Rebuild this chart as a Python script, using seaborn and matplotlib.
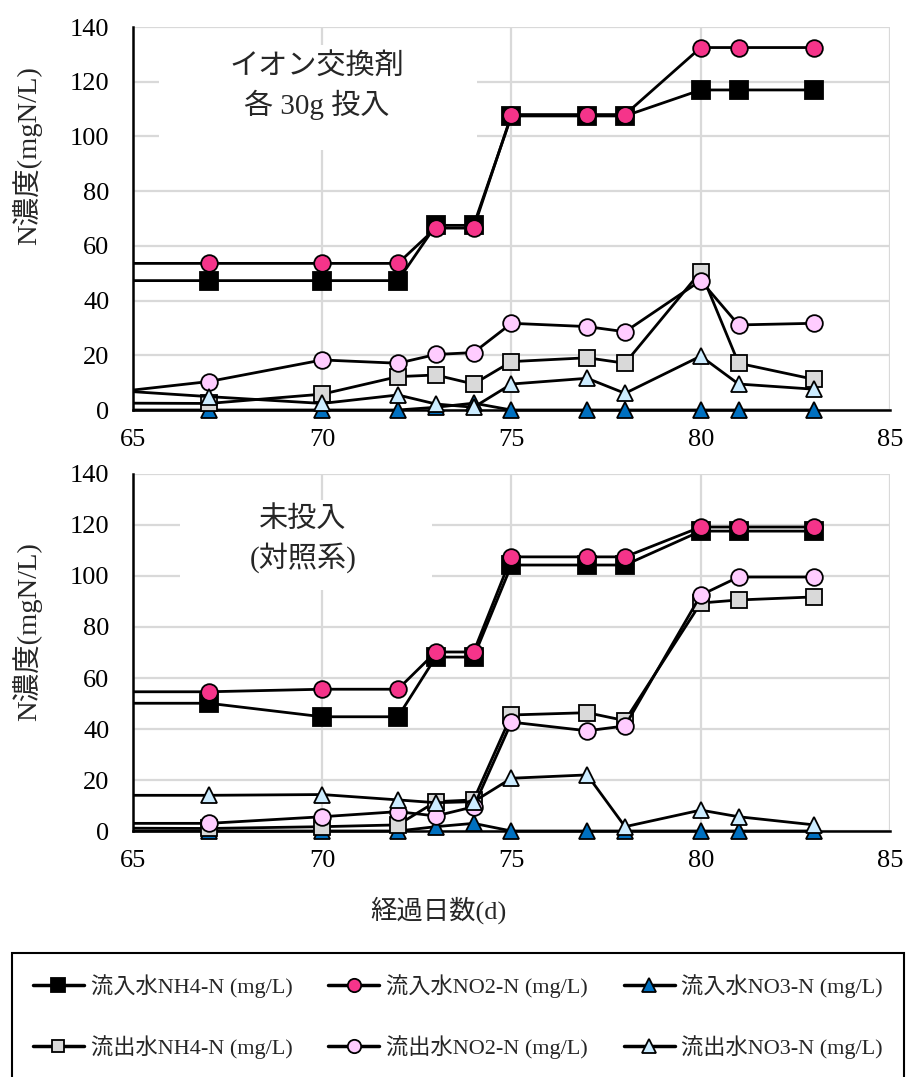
import matplotlib
matplotlib.use("Agg")
import matplotlib.pyplot as plt
import seaborn as sns
import pandas as pd
from matplotlib.patches import Rectangle

# ---------------- data ----------------
# day 63 is an earlier measurement that lies left of the visible x range
days = [63, 67, 70, 72, 73, 74, 75, 77, 78, 80, 81, 83]

# top panel: ion exchanger 30 g each
top_in_nh4 = [47.3, 47.3, 47.3, 47.3, 67.5, 67.5, 107.5, 107.5, 107.5, 117.0, 117.0, 117.0]
top_in_no2 = [53.6, 53.6, 53.6, 53.6, 66.5, 66.5, 108.0, 108.0, 108.0, 132.5, 132.5, 132.5]
top_in_no3 = [0.0, 0.0, 0.0, 0.0, 1.0, 2.5, 0.0, 0.0, 0.0, 0.0, 0.0, 0.0]
top_out_nh4 = [2.6, 2.4, 5.8, 12.2, 12.8, 9.5, 17.7, 19.1, 17.1, 50.6, 17.1, 11.2]
top_out_no2 = [4.2, 10.4, 18.3, 17.1, 20.3, 21.0, 31.7, 30.5, 28.6, 47.3, 31.1, 31.7]
top_out_no3 = [8.5, 4.9, 2.4, 5.5, 2.2, 1.0, 9.5, 11.6, 6.1, 19.7, 9.5, 7.6]

# bottom panel: control
bot_in_nh4 = [50.1, 50.1, 44.8, 44.8, 68.2, 68.2, 104.3, 104.3, 104.3, 117.6, 117.6, 117.6]
bot_in_no2 = [54.6, 54.6, 55.6, 55.6, 70.2, 70.2, 107.5, 107.5, 107.5, 119.2, 119.2, 119.2]
bot_in_no3 = [0.0, 0.0, 0.0, 0.0, 1.7, 3.0, 0.0, 0.0, 0.0, 0.0, 0.0, 0.0]
bot_out_nh4 = [1.2, 1.0, 1.7, 2.4, 11.5, 12.2, 45.5, 46.4, 43.3, 89.4, 90.6, 91.8]
bot_out_no2 = [3.0, 3.0, 5.6, 7.6, 5.9, 9.5, 42.7, 39.3, 41.2, 92.5, 99.6, 99.6]
bot_out_no3 = [14.0, 14.0, 14.3, 12.2, 11.1, 11.5, 20.7, 22.0, 1.7, 8.2, 5.6, 2.4]

series_labels = ["流入水NH4-N (mg/L)", "流入水NO2-N (mg/L)", "流入水NO3-N (mg/L)",
                 "流出水NH4-N (mg/L)", "流出水NO2-N (mg/L)", "流出水NO3-N (mg/L)"]
x_ticks = [65, 70, 75, 80, 85]
y_ticks = [0, 20, 40, 60, 80, 100, 120, 140]
ylabel = "N濃度(mgN/L)"
xlabel = "経過日数(d)"
top_note = "イオン交換剤\n各 30g 投入"
bot_note = "未投入\n(対照系)"

# ---------------- style ----------------
sns.set_style("white")
FAM = ["Liberation Serif", "Noto Sans CJK JP", "DejaVu Sans"]
plt.rcParams["font.family"] = FAM

styles = [
    dict(marker="s", markerfacecolor="#000000", markersize=12.5),
    dict(marker="o", markerfacecolor="#F5348A", markersize=12),
    dict(marker="^", markerfacecolor="#0070C0", markersize=12),
    dict(marker="s", markerfacecolor="#D9D9D9", markersize=11.5),
    dict(marker="o", markerfacecolor="#FFCCFF", markersize=12),
    dict(marker="^", markerfacecolor="#CCECFF", markersize=12),
]

fig = plt.figure(figsize=(9.06, 10.77), dpi=100)
ax_top = fig.add_axes([0.1468, 0.6193, 0.8355, 0.3556])
ax_bot = fig.add_axes([0.1468, 0.2284, 0.8355, 0.3315])

panels = [
    (ax_top, [top_in_nh4, top_in_no2, top_in_no3, top_out_nh4, top_out_no2, top_out_no3],
     top_note, (0.034, 0.679, 0.420, 0.274), (317, 67, 105), 156),
    (ax_bot, [bot_in_nh4, bot_in_no2, bot_in_no3, bot_out_nh4, bot_out_no2, bot_out_no3],
     bot_note, (0.062, 0.675, 0.333, 0.252), (303, 520, 558), 632),
]

for ax, vals, note, box, tpos, ylab_y in panels:
    for v, lab, st in zip(vals, series_labels, styles):
        df = pd.DataFrame({"day": days, "val": v})
        sns.lineplot(data=df, x="day", y="val", ax=ax, color="black", linewidth=2.0,
                     markeredgecolor="black", markeredgewidth=1.3, label=lab,
                     legend=False, zorder=3, **st)
    # clip at the left edge only, so markers at 0 stay whole
    clip_rect = Rectangle((0, -0.1), 1.1, 1.3, transform=ax.transAxes)
    for ln in ax.lines:
        ln.set_clip_path(clip_rect)
    ax.set_xlim(65, 85)
    ax.set_ylim(0, 140)
    ax.set_xticks(x_ticks)
    ax.set_yticks(y_ticks)
    ax.grid(True, color="#D9D9D9", linewidth=1.6)
    ax.set_axisbelow(True)
    for s in ["top", "right"]:
        ax.spines[s].set_visible(False)
    for s in ["left", "bottom"]:
        ax.spines[s].set_color("black")
        ax.spines[s].set_linewidth(1.8)
        ax.spines[s].set_zorder(2.5)
    ax.tick_params(axis="both", direction="in", length=6, width=1.5, colors="black",
                   labelsize=19)
    ax.tick_params(axis="y", pad=17)
    ax.tick_params(axis="x", pad=14)
    ax.set_xlabel("")
    ax.set_ylabel("")
    for lbl in ax.get_xticklabels() + ax.get_yticklabels():
        lbl.set_family(FAM)
    fig.text(27 / 906, 1 - ylab_y / 1077, ylabel, rotation=90, ha="center", va="center",
             fontsize=20.5, family=FAM)
    ax.add_patch(Rectangle((box[0], box[1]), box[2], box[3], transform=ax.transAxes,
                           facecolor="white", edgecolor="none", zorder=1.5))
    fig.text(tpos[0] / 906, 1 - tpos[1] / 1077, note.split("\n")[0], ha="center",
             va="center", fontsize=21, family=FAM, zorder=4)
    fig.text(tpos[0] / 906, 1 - tpos[2] / 1077, note.split("\n")[1], ha="center",
             va="center", fontsize=21, family=FAM, zorder=4)

fig.text(438 / 906, 1 - 910 / 1077, xlabel, ha="center", va="center", fontsize=19,
         family=FAM)

handles, labels = ax_top.get_legend_handles_labels()
order = [0, 3, 1, 4, 2, 5]
leg = fig.legend([handles[i] for i in order], [labels[i] for i in order],
                 loc="upper left", bbox_to_anchor=(0.013, 1 - 953 / 1077 - 0.16, 0.985, 0.16),
                 mode="expand", ncol=3, frameon=True, fancybox=False, edgecolor="black",
                 framealpha=1, markerscale=0.8, handlelength=2.3, handletextpad=0.3,
                 labelspacing=1.65, borderpad=0.95, borderaxespad=0.0, columnspacing=0.4,
                 prop={"family": FAM, "size": 16})
leg.get_frame().set_linewidth(1.5)
for h in leg.legend_handles:
    h.set_linewidth(2.5)

fig.savefig("out.png", dpi=100)
